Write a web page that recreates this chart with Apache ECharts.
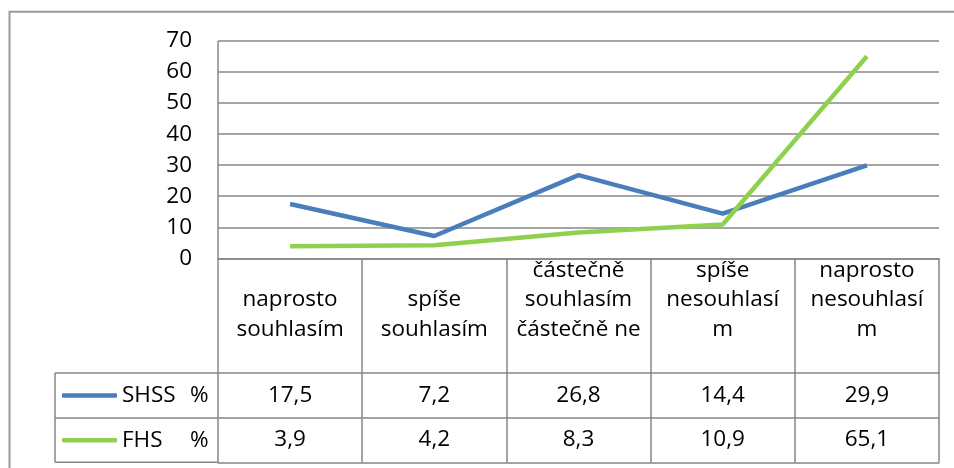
<!DOCTYPE html>
<html>
<head>
<meta charset="utf-8">
<script src="https://cdn.jsdelivr.net/npm/echarts@6/dist/echarts.min.js"></script>
<style>
  html, body { margin: 0; padding: 0; background: #fff; }
  #chart { width: 954px; height: 468px; }
</style>
</head>
<body>
<div id="chart"></div>
<script>
// data
const categories = [
  'naprosto\nsouhlasím',
  'spíše\nsouhlasím',
  'částečně\nsouhlasím\nčástečně ne',
  'spíše\nnesouhlasí\nm',
  'naprosto\nnesouhlasí\nm'
];
const shss = [17.5, 7.2, 26.8, 14.4, 29.9];
const fhs = [3.9, 4.2, 8.3, 10.9, 65.1];
const yTicks = [0, 10, 20, 30, 40, 50, 60, 70];

// layout (px)
const W = 954, H = 468;
const gLeft = 218, gRight = 939, gTop = 41, gBottom = 258.3;
const row1 = 373, row2 = 418, row3 = 462.3;
const legLeft = 55;
const gray = '#878787';
const font = 'Open Sans';
const fs = 22.5;

const comma = v => String(v).replace('.', ',');

const chart = echarts.init(document.getElementById('chart'));

// category axes stacked under the grid = header row + data table rows
const baseX = {
  type: 'category',
  position: 'bottom',
  gridIndex: 0,
  boundaryGap: true,
  axisLine: { show: true, onZero: false, lineStyle: { color: gray, width: 1.5 } },
  axisTick: { show: false },
  splitLine: { show: false }
};

const legendText = {
  color: '#000', fontSize: fs, fontFamily: font, lineHeight: 24,
  rich: { n: { width: 68, fontSize: fs, fontFamily: font }, p: { fontSize: fs, fontFamily: font } }
};

chart.setOption({
  animation: false,
  grid: { left: gLeft, right: W - gRight, top: gTop, bottom: H - gBottom, show: false },
  xAxis: [
    Object.assign({}, baseX, {
      data: categories,
      axisTick: { show: true, length: row3 - gBottom, lineStyle: { color: gray, width: 1.5 } },
      axisLabel: {
        interval: 0, margin: 86, verticalAlign: 'bottom',
        fontSize: fs, lineHeight: 29.5, color: '#000', fontFamily: font
      }
    }),
    Object.assign({}, baseX, {
      data: shss.map(comma),
      offset: row1 - gBottom,
      axisLabel: { interval: 0, margin: 23, verticalAlign: 'middle', fontSize: fs, color: '#000', fontFamily: font }
    }),
    Object.assign({}, baseX, {
      data: fhs.map(comma),
      offset: row2 - gBottom,
      axisLabel: { interval: 0, margin: 22, verticalAlign: 'middle', fontSize: fs, color: '#000', fontFamily: font }
    }),
    Object.assign({}, baseX, {
      data: categories.map(() => ''),
      offset: row3 - gBottom,
      axisLabel: { show: false }
    })
  ],
  yAxis: {
    type: 'value',
    min: yTicks[0],
    max: yTicks[yTicks.length - 1],
    interval: 10,
    axisLine: { show: false },
    axisTick: { show: false },
    splitLine: { lineStyle: { color: gray, width: 1.5 } },
    axisLabel: { margin: 26, fontSize: fs, color: '#000', fontFamily: font }
  },
  legend: [
    {
      data: ['SHSS'], left: 62, top: (row1 + row2) / 2 - 12, padding: 0,
      icon: 'roundRect', itemWidth: 55, itemHeight: 4.5, itemGap: 0,
      formatter: n => '{n|' + n + '}{p|%}',
      textStyle: legendText
    },
    {
      data: ['FHS'], left: 62, top: (row2 + row3) / 2 - 12, padding: 0,
      icon: 'roundRect', itemWidth: 55, itemHeight: 4.5, itemGap: 0,
      formatter: n => '{n|' + n + '}{p|%}',
      textStyle: legendText
    }
  ],
  series: [
    {
      name: 'SHSS', type: 'line', data: shss,
      symbol: 'none', itemStyle: { color: '#4a7ebb' },
      lineStyle: { width: 4.5, color: '#4a7ebb' }
    },
    {
      name: 'FHS', type: 'line', data: fhs,
      symbol: 'none', itemStyle: { color: '#8fd14f' },
      lineStyle: { width: 4.5, color: '#8fd14f' }
    }
  ],
  graphic: [
    // outer chart frame (left + top edges visible)
    {
      type: 'polyline', silent: true,
      shape: { points: [[9.5, H + 5], [9.5, 11.7], [W + 5, 11.7]] },
      style: { stroke: '#9a9a9a', lineWidth: 2, fill: null }
    },
    // left edge of plot area
    {
      type: 'line', silent: true,
      shape: { x1: gLeft, y1: gTop, x2: gLeft, y2: gBottom },
      style: { stroke: gray, lineWidth: 1.5 }
    },
    // legend column of the data table
    {
      type: 'line', silent: true,
      shape: { x1: legLeft, y1: row1, x2: gLeft, y2: row1 },
      style: { stroke: gray, lineWidth: 1.5 }
    },
    {
      type: 'line', silent: true,
      shape: { x1: legLeft, y1: row2, x2: gLeft, y2: row2 },
      style: { stroke: gray, lineWidth: 1.5 }
    },
    {
      type: 'line', silent: true,
      shape: { x1: legLeft, y1: row3, x2: gLeft, y2: row3 },
      style: { stroke: gray, lineWidth: 1.5 }
    },
    {
      type: 'line', silent: true,
      shape: { x1: legLeft, y1: row1, x2: legLeft, y2: row3 },
      style: { stroke: gray, lineWidth: 1.5 }
    }
  ]
});
</script>
</body>
</html>
